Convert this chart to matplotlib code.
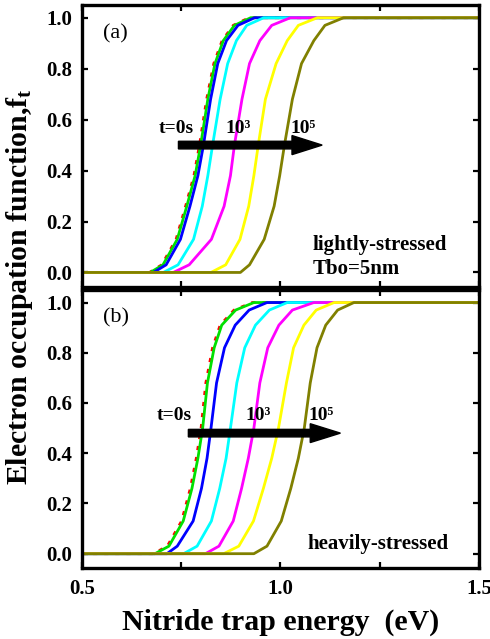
import matplotlib
matplotlib.use("Agg")
import matplotlib.pyplot as plt
from matplotlib.ticker import MultipleLocator


##########################################
# occupation levels at which the curve positions were read
f_levels = [0.0, 0.03, 0.13, 0.26, 0.38, 0.5, 0.68, 0.82, 0.91, 0.97, 1.0]

# (a) lightly-stressed, energy (eV) of each curve at the levels above
top_red = [0.670, 0.701, 0.737, 0.761, 0.782, 0.796, 0.814, 0.832, 0.853, 0.881, 0.921]
top_green = [0.672, 0.704, 0.740, 0.764, 0.785, 0.799, 0.817, 0.835, 0.856, 0.884, 0.925]
top_blue = [0.680, 0.712, 0.748, 0.772, 0.792, 0.806, 0.824, 0.842, 0.864, 0.893, 0.935]
top_cyan = [0.705, 0.742, 0.781, 0.803, 0.817, 0.829, 0.848, 0.867, 0.889, 0.915, 0.958]
top_magenta = [0.730, 0.770, 0.826, 0.858, 0.874, 0.884, 0.903, 0.922, 0.948, 0.978, 1.025]
top_yellow = [0.825, 0.862, 0.898, 0.920, 0.933, 0.944, 0.962, 0.989, 1.017, 1.045, 1.093]
top_olive = [0.899, 0.922, 0.959, 0.984, 0.998, 1.010, 1.030, 1.053, 1.084, 1.112, 1.159]

# (b) heavily-stressed
bot_red = [0.680, 0.715, 0.751, 0.773, 0.788, 0.800, 0.812, 0.829, 0.848, 0.883, 0.929]
bot_green = [0.684, 0.719, 0.755, 0.777, 0.792, 0.804, 0.816, 0.833, 0.852, 0.887, 0.933]
bot_blue = [0.714, 0.740, 0.780, 0.801, 0.815, 0.825, 0.839, 0.859, 0.886, 0.921, 0.966]
bot_cyan = [0.756, 0.790, 0.826, 0.847, 0.863, 0.874, 0.890, 0.910, 0.937, 0.972, 1.017]
bot_magenta = [0.811, 0.845, 0.881, 0.902, 0.919, 0.933, 0.948, 0.968, 0.996, 1.030, 1.084]
bot_yellow = [0.857, 0.895, 0.932, 0.957, 0.978, 0.995, 1.015, 1.033, 1.059, 1.090, 1.135]
bot_olive = [0.933, 0.966, 1.002, 1.026, 1.045, 1.060, 1.075, 1.092, 1.114, 1.144, 1.185]

curve_colors = ["red", "#00e000", "blue", "cyan", "magenta", "yellow", "#808000"]
curve_styles = [(0, (1.5, 2.5)), "-", "-", "-", "-", "-", "-"]

E_min, E_max = 0.5, 1.5

plt.rcParams['font.family'] = ['Liberation Serif', 'DejaVu Serif']
plt.rcParams['font.weight'] = 'bold'
plt.rcParams['mathtext.fontset'] = 'custom'
plt.rcParams['mathtext.rm'] = 'Liberation Serif:bold'
plt.rcParams['mathtext.it'] = 'Liberation Serif:bold'


##########################################
def draw_panel(ax, curves, tag, t_pos, note, note_pos, arrow):
    for energies, col, ls in zip(curves, curve_colors, curve_styles):
        xs = [E_min] + energies + [E_max]
        ys = [0.0] + f_levels + [1.0]
        ax.plot(xs, ys, color=col, ls=ls, lw=2.0)

    ax.set_xlim(E_min, E_max)
    ax.set_ylim(-0.057, 1.05)
    ax.xaxis.set_major_locator(MultipleLocator(0.5))
    ax.xaxis.set_minor_locator(MultipleLocator(0.25))
    ax.yaxis.set_major_locator(MultipleLocator(0.2))
    ax.tick_params(which='both', direction='in', top=True, right=True,
                   width=1.6, length=4.5, labelsize=15)
    ax.tick_params(axis='y', pad=7)
    ax.tick_params(axis='x', pad=8)
    for s in ax.spines.values():
        s.set_linewidth(2.4)
    ax.yaxis.set_major_formatter(plt.FormatStrFormatter('%.1f'))
    ax.xaxis.set_major_formatter(plt.FormatStrFormatter('%.1f'))

    # arrow of increasing stress time
    x0, x1, ya = arrow
    ax.arrow(x0, ya, x1 - x0 - 0.076, 0, width=0.03, head_width=0.075,
             head_length=0.076, fc='k', ec='k', zorder=5)

    ax.text(0.553, 0.937, tag, fontsize=16, fontweight='normal', va='center', ha='left')
    ax.text(t_pos[0], t_pos[3], "t=0s", fontsize=14, va='baseline')
    ax.text(t_pos[1], t_pos[3], "10³", fontsize=14, va='baseline')
    ax.text(t_pos[2], t_pos[3], "10⁵", fontsize=14, va='baseline')
    ax.text(note_pos[0], note_pos[1], note, fontsize=15, va='baseline',
            linespacing=1.25)


##########################################
fig = plt.figure(figsize=(4.9, 6.39), dpi=100)
ax_top = fig.add_axes([0.1673, 0.5509, 0.8102, 0.4413])
ax_bot = fig.add_axes([0.1673, 0.1111, 0.8102, 0.4351])

draw_panel(ax_top,
           [top_red, top_green, top_blue, top_cyan, top_magenta, top_yellow, top_olive],
           "(a)", (0.692, 0.861, 1.025, 0.547),
           "lightly-stressed\nTbo=5nm", (1.081, -0.005), (0.743, 1.105, 0.5))
draw_panel(ax_bot,
           [bot_red, bot_green, bot_blue, bot_cyan, bot_magenta, bot_yellow, bot_olive],
           "(b)", (0.689, 0.912, 1.071, 0.532),
           "heavily-stressed", (1.068, 0.02), (0.768, 1.151, 0.48))

ax_top.tick_params(labelbottom=False)
ax_bot.set_xlabel("Nitride trap energy  (eV)", fontsize=21.5, fontweight='bold', labelpad=7)
fig.text(0.040, 0.552, r"Electron occupation function,f$_\mathrm{t}$",
         rotation=90, fontsize=21.5, fontweight='bold', ha='center', va='center')

fig.savefig("out.png", dpi=100)
